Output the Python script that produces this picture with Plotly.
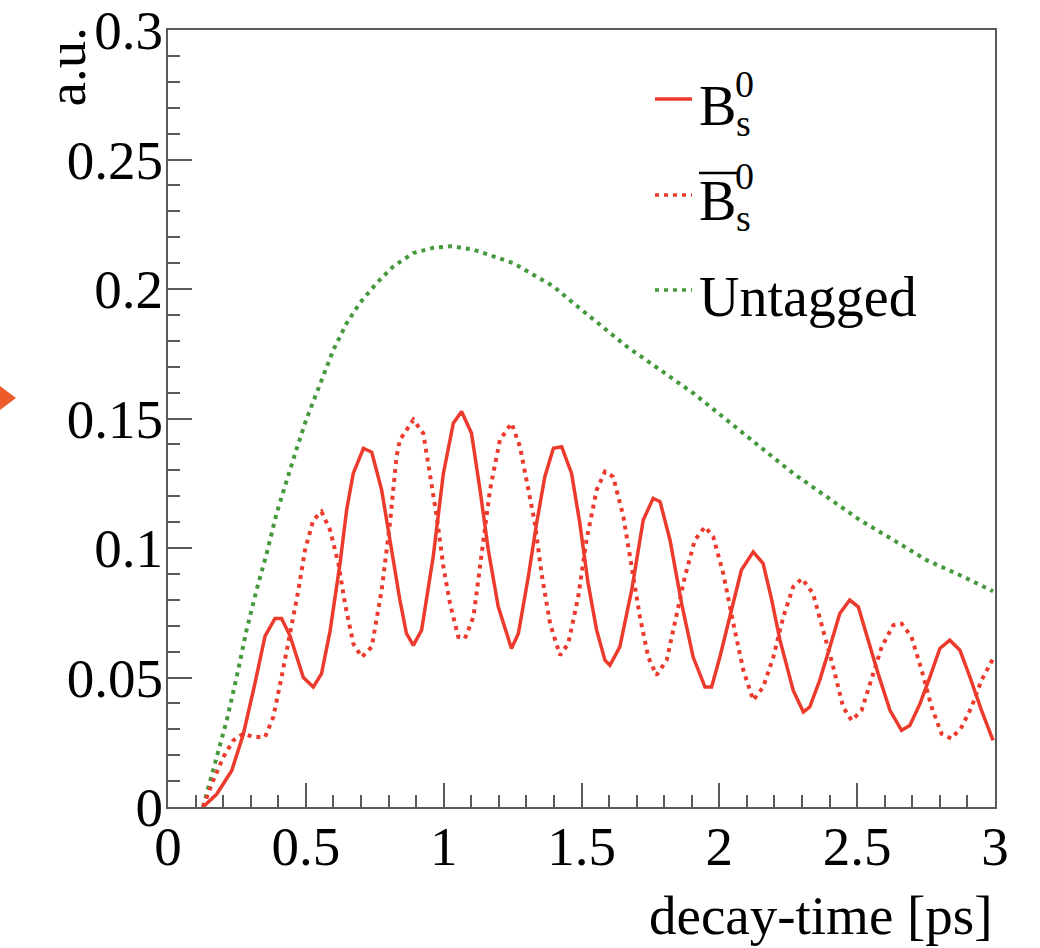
import plotly.graph_objects as go

# ---- data ----
t_b0 = [0.127, 0.177, 0.231, 0.273, 0.316, 0.352, 0.388, 0.412, 0.443, 0.491, 0.527, 0.557, 0.588,
        0.624, 0.648, 0.672, 0.709, 0.739, 0.775, 0.805, 0.841, 0.865, 0.890, 0.920, 0.962, 0.999,
        1.035, 1.065, 1.101, 1.132, 1.162, 1.198, 1.246, 1.271, 1.307, 1.337, 1.367, 1.398, 1.428,
        1.464, 1.494, 1.524, 1.555, 1.585, 1.603, 1.639, 1.682, 1.724, 1.760, 1.785, 1.821, 1.863,
        1.905, 1.948, 1.972, 2.002, 2.038, 2.080, 2.123, 2.159, 2.190, 2.220, 2.268, 2.305, 2.328,
        2.364, 2.401, 2.437, 2.473, 2.504, 2.540, 2.576, 2.619, 2.661, 2.691, 2.728, 2.764, 2.800,
        2.836, 2.873, 2.909, 2.951, 2.993]
v_b0 = [0.000, 0.005, 0.014, 0.028, 0.048, 0.066, 0.0728, 0.0728, 0.066, 0.050, 0.0463, 0.0515, 0.068,
        0.094, 0.1147, 0.1288, 0.1385, 0.137, 0.1224, 0.103, 0.080, 0.067, 0.0624, 0.0683, 0.0966, 0.1288,
        0.1482, 0.1527, 0.1443, 0.1224, 0.0992, 0.0773, 0.0612, 0.067, 0.0889, 0.1095, 0.1275, 0.1385, 0.1391,
        0.1288, 0.1095, 0.0863, 0.0683, 0.0567, 0.0547, 0.0618, 0.0837, 0.1108, 0.1192, 0.1179, 0.1031, 0.0786,
        0.0579, 0.0463, 0.0463, 0.0579, 0.0734, 0.0915, 0.0985, 0.094, 0.080, 0.0644, 0.045, 0.0367, 0.0386,
        0.0489, 0.0618, 0.0747, 0.0799, 0.0773, 0.0644, 0.0515, 0.0373, 0.0296, 0.0315, 0.0399, 0.0502, 0.0612,
        0.0644, 0.0605, 0.0502, 0.0373, 0.0257]

t_b0bar = [0.127, 0.164, 0.201, 0.237, 0.273, 0.310, 0.352, 0.382, 0.412, 0.443, 0.473, 0.497, 0.527,
           0.557, 0.588, 0.618, 0.642, 0.672, 0.703, 0.739, 0.775, 0.805, 0.829, 0.841, 0.890, 0.926,
           0.950, 0.975, 0.999, 1.023, 1.053, 1.077, 1.108, 1.138, 1.168, 1.204, 1.246, 1.277, 1.301,
           1.331, 1.355, 1.386, 1.422, 1.452, 1.488, 1.518, 1.555, 1.585, 1.615, 1.652, 1.682, 1.712,
           1.742, 1.772, 1.809, 1.845, 1.875, 1.911, 1.948, 1.978, 2.014, 2.051, 2.087, 2.123, 2.159,
           2.196, 2.232, 2.268, 2.300, 2.340, 2.377, 2.413, 2.449, 2.480, 2.516, 2.552, 2.589, 2.631,
           2.661, 2.697, 2.734, 2.770, 2.806, 2.842, 2.879, 2.915, 2.951, 2.993]
v_b0bar = [0.000, 0.0102, 0.0193, 0.0257, 0.0283, 0.027, 0.027, 0.0347, 0.0502, 0.067, 0.0837, 0.0992, 0.1108,
           0.114, 0.1069, 0.094, 0.0786, 0.0631, 0.0579, 0.0618, 0.0837, 0.1095, 0.1353, 0.1417, 0.1495, 0.1443,
           0.1288, 0.1121, 0.0927, 0.0786, 0.0657, 0.065, 0.0734, 0.0966, 0.1224, 0.1417, 0.1482, 0.1391, 0.1263,
           0.1095, 0.0902, 0.0708, 0.0586, 0.0631, 0.0811, 0.103, 0.1224, 0.1295, 0.1275, 0.1121, 0.0927, 0.0734,
           0.0579, 0.0509, 0.0567, 0.0734, 0.0889, 0.103, 0.1082, 0.1043, 0.0902, 0.0708, 0.0528, 0.0412, 0.0463,
           0.0579, 0.0734, 0.085, 0.0882, 0.0824, 0.0683, 0.0541, 0.0386, 0.0334, 0.0373, 0.0489, 0.0618, 0.0702,
           0.0708, 0.0657, 0.0528, 0.0386, 0.0283, 0.0264, 0.0309, 0.0386, 0.0489, 0.0573]

t_untag = [0.127, 0.177, 0.213, 0.249, 0.285, 0.321, 0.358, 0.394, 0.430, 0.467, 0.503, 0.551, 0.600,
           0.648, 0.696, 0.757, 0.817, 0.890, 0.962, 1.029, 1.108, 1.180, 1.253, 1.325, 1.398, 1.470,
           1.543, 1.664, 1.785, 1.905, 2.026, 2.147, 2.268, 2.389, 2.510, 2.631, 2.752, 2.873, 2.993]
v_untag = [0.000, 0.0193, 0.0334, 0.0502, 0.0683, 0.0837, 0.0979, 0.1134, 0.1263, 0.1385, 0.150, 0.1636, 0.1765,
           0.1868, 0.1946, 0.2023, 0.2087, 0.2139, 0.2159, 0.2165, 0.2152, 0.2126, 0.2100, 0.2055, 0.2010, 0.1946,
           0.1881, 0.1778, 0.1688, 0.1598, 0.1495, 0.1391, 0.1288, 0.1198, 0.1108, 0.1031, 0.0953, 0.0895, 0.0833]

x_tickvals = [0, 0.5, 1, 1.5, 2, 2.5, 3]
x_ticktext = ["0", "0.5", "1", "1.5", "2", "2.5", "3"]
y_tickvals = [0, 0.05, 0.1, 0.15, 0.2, 0.25, 0.3]
y_ticktext = ["0", "0.05", "0.1", "0.15", "0.2", "0.25", "0.3"]

RED = "#ec3b2d"
GREEN = "#45993c"
FONT = "Liberation Serif"
AXC = "#5a5a5a"

W, H = 1040, 948
L, R, T, B = 168, 45, 30, 141
PW, PH = W - L - R, H - T - B


def px(xp):
    return (xp - L) / PW


def py(yp):
    return (H - B - yp) / PH


fig = go.Figure()
fig.add_trace(go.Scatter(x=t_untag, y=v_untag, mode="lines", name="Untagged",
                         line=dict(color=GREEN, width=4, dash="4px,5px"), showlegend=False))
fig.add_trace(go.Scatter(x=t_b0bar, y=v_b0bar, mode="lines", name="B̅s0",
                         line=dict(color=RED, width=4, dash="4px,5px"), showlegend=False))
fig.add_trace(go.Scatter(x=t_b0, y=v_b0, mode="lines", name="Bs0",
                         line=dict(color=RED, width=3.5), showlegend=False))

axis_common = dict(showgrid=False, zeroline=False, showline=True, linecolor=AXC, linewidth=2,
                   mirror=True, ticks="inside", tickcolor=AXC, tickwidth=2, ticklen=24,
                   automargin=False,
                   tickfont=dict(family=FONT, size=55, color="black"))

fig.update_xaxes(range=[0, 3], tickvals=x_tickvals, ticktext=x_ticktext,
                 minor=dict(dtick=0.1, tick0=0, ticks="inside", ticklen=12, tickcolor=AXC, tickwidth=2),
                 ticklabelstandoff=-10, **axis_common)
fig.update_yaxes(range=[0, 0.3], tickvals=y_tickvals, ticktext=y_ticktext,
                 minor=dict(dtick=0.01, tick0=0, ticks="inside", ticklen=12, tickcolor=AXC, tickwidth=2),
                 ticklabelstandoff=-8, **axis_common)

ann = []
# axis titles
ann.append(dict(text="decay-time [ps]", x=1.0, y=py(915), xref="paper", yref="paper",
                xanchor="right", yanchor="middle", showarrow=False,
                font=dict(family=FONT, size=55, color="black")))
ann.append(dict(text="a.u.", x=px(66), y=py(26), xref="paper", yref="paper", textangle=-90,
                xanchor="center", yanchor="top", showarrow=False,
                font=dict(family=FONT, size=55, color="black")))

# legend texts
def txt(s, xp, yp, size, anchor="left"):
    ann.append(dict(text=s, x=px(xp), y=py(yp), xref="paper", yref="paper", xanchor=anchor,
                    yanchor="middle", showarrow=False, borderpad=0,
                    font=dict(family=FONT, size=size, color="black")))

txt("B", 698, 106, 56)
txt("0", 734, 84, 38)
txt("s", 735, 123, 38)
txt("B", 698, 201, 56)
txt("0", 734, 176, 38)
txt("s", 735, 218, 38)
txt("Untagged", 698, 297, 56)

fig.update_layout(annotations=ann)

shapes = [
    dict(type="line", xref="paper", yref="paper", x0=px(655), x1=px(692), y0=py(99), y1=py(99),
         line=dict(color=RED, width=3.5)),
    dict(type="line", xref="paper", yref="paper", x0=px(655), x1=px(692), y0=py(195), y1=py(195),
         line=dict(color=RED, width=3.5, dash="4px,5px")),
    dict(type="line", xref="paper", yref="paper", x0=px(655), x1=px(692), y0=py(290), y1=py(290),
         line=dict(color=GREEN, width=3.5, dash="4px,5px")),
    dict(type="line", xref="paper", yref="paper", x0=px(699), x1=px(738), y0=py(173), y1=py(173),
         line=dict(color="black", width=2.5)),
    dict(type="path", xref="paper", yref="paper",
         path=f"M {px(0)} {py(386)} L {px(16)} {py(398)} L {px(0)} {py(410)} Z",
         fillcolor="#ef5a2a", line=dict(color="#ef5a2a", width=0)),
]

fig.update_layout(width=W, height=H, autosize=False,
                  margin=dict(l=L, r=R, t=T, b=B, pad=0),
                  paper_bgcolor="white", plot_bgcolor="white",
                  shapes=shapes, showlegend=False)

fig.write_html("out.html")
